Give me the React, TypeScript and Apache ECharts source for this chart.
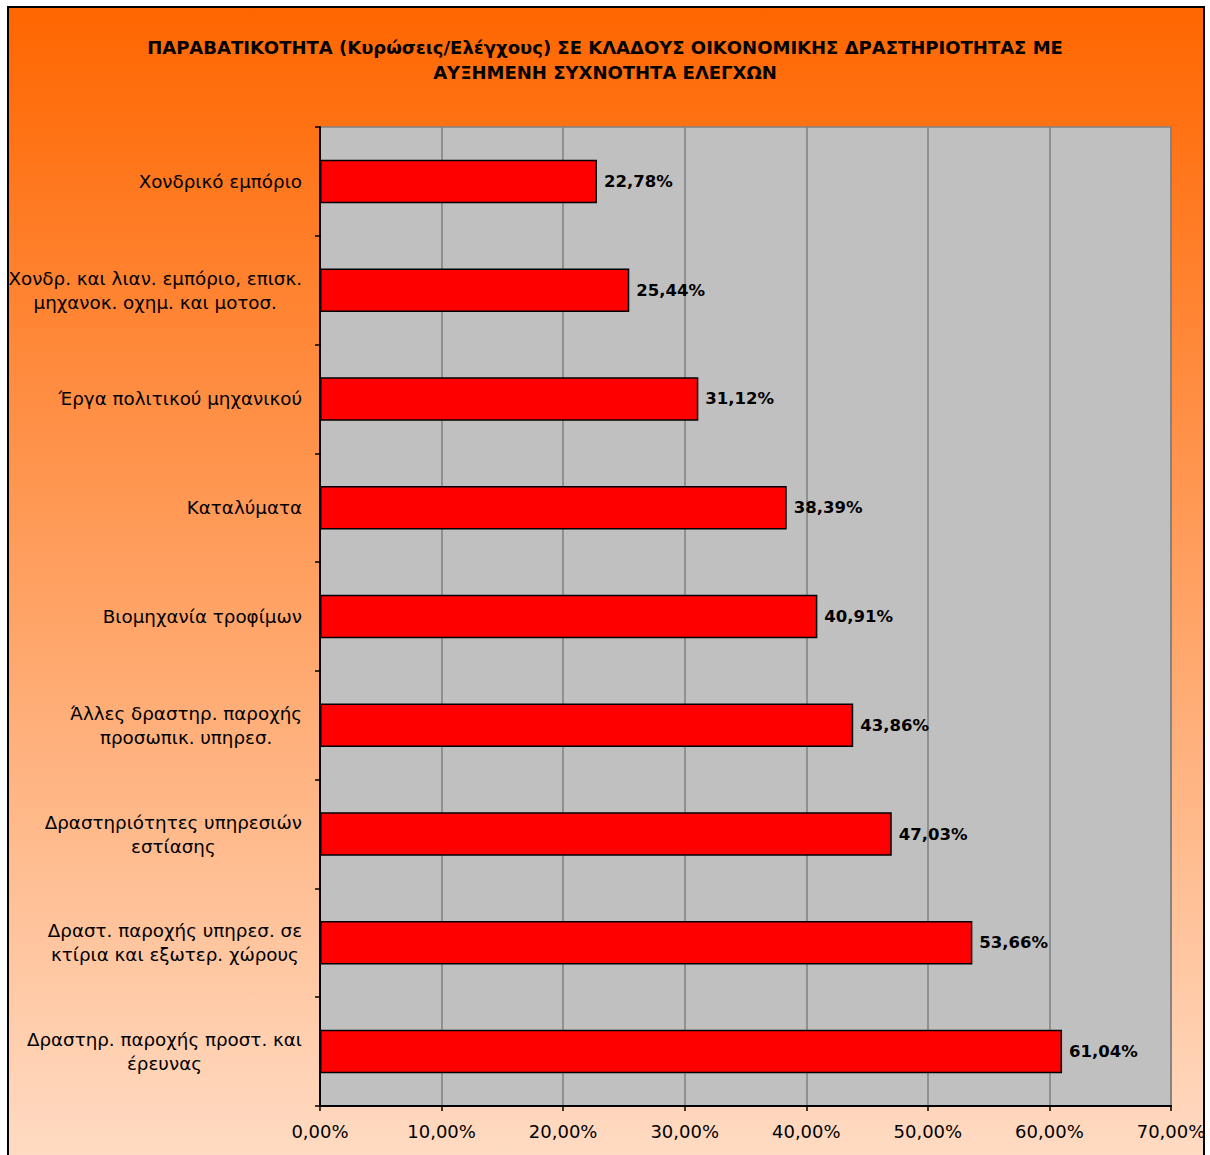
import React, { useEffect, useRef } from "react";
import * as echarts from "echarts";

const titleLines = [
  "ΠΑΡΑΒΑΤΙΚΟΤΗΤΑ (Κυρώσεις/Ελέγχους) ΣΕ ΚΛΑΔΟΥΣ ΟΙΚΟΝΟΜΙΚΗΣ ΔΡΑΣΤΗΡΙΟΤΗΤΑΣ ΜΕ",
  "ΑΥΞΗΜΕΝΗ ΣΥΧΝΟΤΗΤΑ ΕΛΕΓΧΩΝ",
];

const categories = [
  "Χονδρικό εμπόριο",
  "Χονδρ. και λιαν. εμπόριο, επισκ.\nμηχανοκ. οχημ. και μοτοσ.",
  "Έργα πολιτικού μηχανικού",
  "Καταλύματα",
  "Βιομηχανία τροφίμων",
  "Άλλες δραστηρ. παροχής\nπροσωπικ. υπηρεσ.",
  "Δραστηριότητες υπηρεσιών\nεστίασης",
  "Δραστ. παροχής υπηρεσ. σε\nκτίρια και εξωτερ. χώρους",
  "Δραστηρ. παροχής προστ. και\nέρευνας",
];

const values = [22.78, 25.44, 31.12, 38.39, 40.91, 43.86, 47.03, 53.66, 61.04];

const axisMin = 0;
const axisMax = 70;
const axisStep = 10;

const fmtPct = (v: number) => v.toFixed(2).replace(".", ",") + "%";

const FONT = "DejaVu Sans";

export default function App() {
  const ref = useRef<HTMLDivElement>(null);
  useEffect(() => {
    document.body.style.margin = "0";
    const chart = echarts.init(ref.current!, null, { renderer: "svg" });
    chart.setOption({
      animation: false,
      backgroundColor: "#ffffff",
      graphic: [
        {
          type: "rect",
          z: -10,
          silent: true,
          shape: { x: 8, y: 7, width: 1196, height: 1170 },
          style: {
            fill: new echarts.graphic.LinearGradient(0, 0, 0, 1, [
              { offset: 0, color: "#FF6600" },
              { offset: 1, color: "#FFDDC6" },
            ]),
            stroke: "#000000",
            lineWidth: 2,
          },
        },
      ],
      title: {
        text: titleLines.join("\n"),
        left: "center",
        top: 30,
        textStyle: {
          fontFamily: FONT,
          fontSize: 18,
          fontWeight: "bold",
          color: "#000",
          lineHeight: 25,
        },
      },
      grid: {
        left: 320,
        right: 39,
        top: 127,
        bottom: 49,
        show: true,
        backgroundColor: "#C0C0C0",
        borderColor: "#808080",
        borderWidth: 1.5,
      },
      xAxis: {
        type: "value",
        min: axisMin,
        max: axisMax,
        interval: axisStep,
        axisLine: { show: true, lineStyle: { color: "#000", width: 2 } },
        axisTick: { show: true, length: 5, lineStyle: { color: "#000", width: 1.5 } },
        splitLine: { show: true, lineStyle: { color: "#808080", width: 1.5 } },
        axisLabel: {
          formatter: (v: number) => fmtPct(v),
          fontFamily: FONT,
          fontSize: 18,
          color: "#000",
          margin: 16,
        },
      },
      yAxis: {
        type: "category",
        inverse: true,
        data: categories,
        axisLine: { show: true, lineStyle: { color: "#000", width: 2 } },
        axisTick: { show: true, length: 5, lineStyle: { color: "#000", width: 1.5 } },
        splitLine: { show: false },
        axisLabel: {
          margin: 18,
          formatter: (v: string) =>
            v
              .split("\n")
              .map((l) => `{c|${l}}`)
              .join("\n"),
          rich: {
            c: {
              align: "center",
              fontFamily: FONT,
              fontSize: 18.3,
              color: "#000",
              lineHeight: 24,
            },
          },
        },
      },
      series: [
        {
          type: "bar",
          data: values,
          barCategoryGap: "60%",
          itemStyle: { color: "#FF0000", borderColor: "#000", borderWidth: 1.5 },
          label: {
            show: true,
            position: "right",
            distance: 7,
            formatter: (p: any) => fmtPct(p.value),
            fontFamily: FONT,
            fontSize: 16.5,
            fontWeight: "bold",
            color: "#000",
          },
        },
      ],
    });
    return () => chart.dispose();
  }, []);
  return <div ref={ref} style={{ width: 1210, height: 1155 }} />;
}
